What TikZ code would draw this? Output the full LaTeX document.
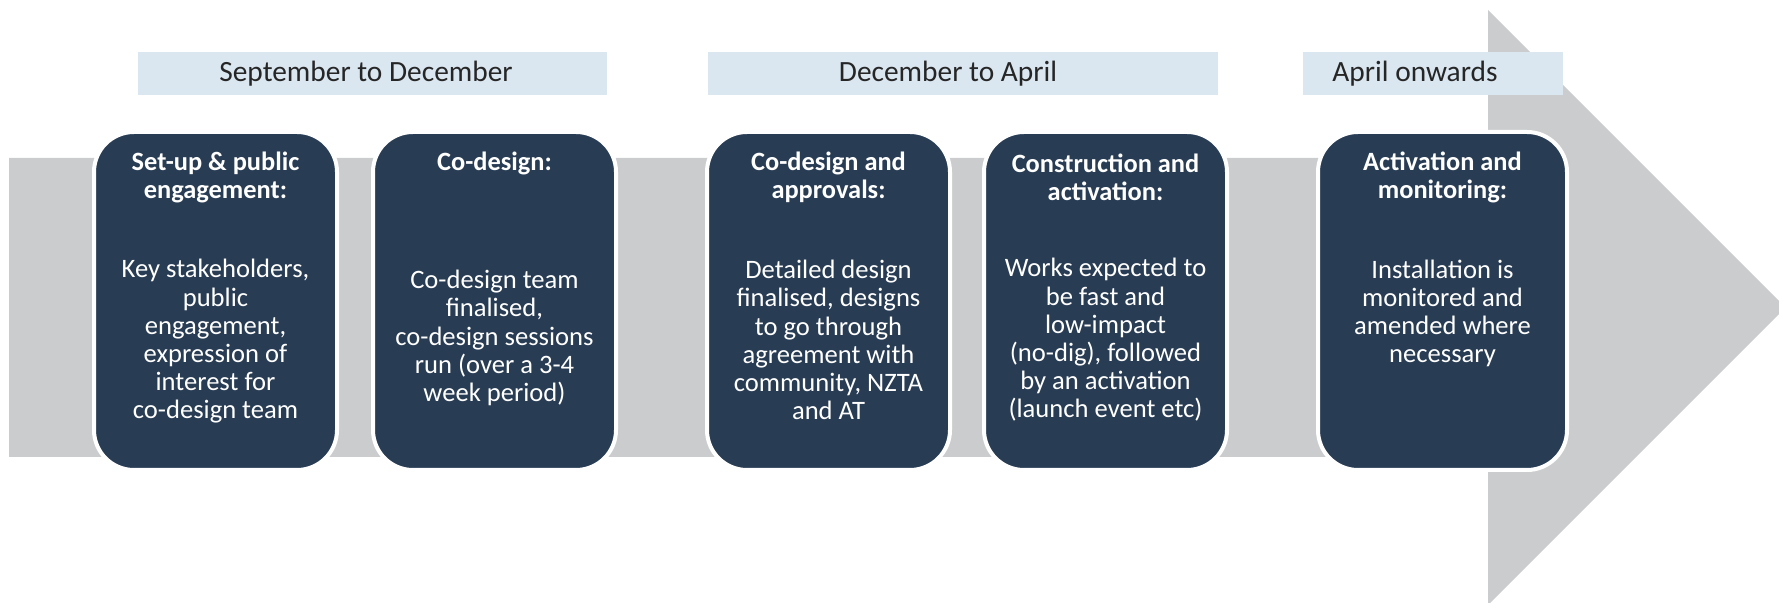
\documentclass[tikz,border=0pt]{standalone}
\usepackage{fontspec}
\setmainfont{Carlito}
\definecolor{navy}{HTML}{283C54}
\definecolor{band}{HTML}{CBCCCE}
\definecolor{bar}{HTML}{DAE7F1}
\definecolor{ink}{HTML}{262626}
\begin{document}
\begin{tikzpicture}[x=0.5pt,y=-0.5pt]
    \clip (0,0) rectangle (1779,603);
    % the big arrow behind everything
    \fill[band] (9,158) -- (1488,158) -- (1488,10) -- (1785.5,307.5) -- (1488,605) -- (1488,457) -- (9,457) -- cycle;

    \begin{scope}[every node/.style={fill=bar, minimum height=21.5pt, inner sep=0pt}]
        \node[minimum width=234.5pt] (b1) at (372.5,73.5) {};
        \node[minimum width=255pt] (b2) at (963,73.5) {};
        \node[minimum width=130pt] (b3) at (1433,73.5) {};
    \end{scope}

    \begin{scope}[every node/.style={text=ink, inner sep=0pt, font=\fontsize{14.7}{16}\selectfont}]
        \node (p1) at ([xshift=-3.25pt]b1.center) {September to December};
        \node (p2) at ([xshift=-7.5pt]b2.center) {December to April};
        \node (p3) at ([xshift=-9pt]b3.center) {April onwards};
    \end{scope}

    \begin{scope}[every node/.style={fill=navy, draw=white, line width=2pt, rounded corners=20pt, minimum width=121.5pt, minimum height=169pt}]
        \node (s1) at (215.5,301) {};
        \node (s2) at (494.5,301) {};
        \node (s3) at (828.5,301) {};
        \node (s4) at (1105.5,301) {};
        \node[minimum width=124.5pt] (s5) at (1442.5,301) {};
    \end{scope}

    \begin{scope}[every node/.style={text=white, align=center, inner sep=0pt, font=\bfseries\fontsize{13.2}{14}\selectfont}]
        \node (t1) at (215.5,177) {Set-up \& public\\engagement:};
        \node (t2) at (494.5,163) {Co-design:};
        \node (t3) at (828.5,177) {Co-design and\\approvals:};
        \node (t4) at (1105.5,177) {Construction and\\activation:};
        \node (t5) at (1442.5,177) {Activation and\\monitoring:};
    \end{scope}

    \begin{scope}[every node/.style={text=white, align=center, inner sep=0pt, font=\fontsize{13.3}{14.1}\selectfont}]
        \node (d1) at (215.5,341.5) {Key stakeholders,\\public\\engagement,\\expression of\\interest for\\co-design team};
        \node (d2) at (494.5,338) {Co-design team\\finalised,\\co-design sessions\\run (over a 3-4\\week period)};
        \node (d3) at (828.5,340) {Detailed design\\finalised, designs\\to go through\\agreement with\\community, NZTA\\and AT};
        \node (d4) at (1105.5,340) {Works expected to\\be fast and\\low-impact\\(no-dig), followed\\by an activation\\(launch event etc)};
        \node (d5) at (1442.5,313.5) {Installation is\\monitored and\\amended where\\necessary};
    \end{scope}
\end{tikzpicture}
\end{document}
